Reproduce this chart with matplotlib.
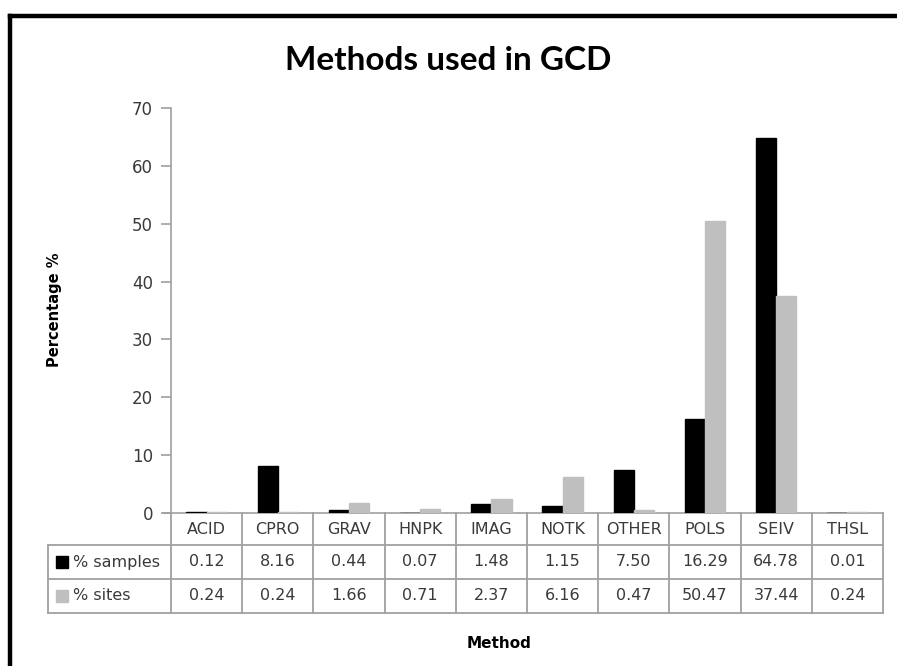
import matplotlib.pyplot as plt
import numpy as np

methods = ['ACID', 'CPRO', 'GRAV', 'HNPK', 'IMAG', 'NOTK', 'OTHER', 'POLS', 'SEIV', 'THSL']
pct_samples = [0.12, 8.16, 0.44, 0.07, 1.48, 1.15, 7.50, 16.29, 64.78, 0.01]
pct_sites = [0.24, 0.24, 1.66, 0.71, 2.37, 6.16, 0.47, 50.47, 37.44, 0.24]
series_names = ['% samples', '% sites']
y_ticks = [0, 10, 20, 30, 40, 50, 60, 70]

W, H = 897, 666
BLACK = '#000000'
GREY = '#bfbfbf'
LINE = '#a0a0a0'
TXT = '#3a3a3a'


def fx(x):
    return x / W


def fy(y):
    return 1 - y / H


fig = plt.figure(figsize=(W / 100, H / 100), dpi=100)
fig.patch.set_facecolor('white')

# plot area in pixel terms
left, right, top, base = 171, 883, 108, 513
ax = fig.add_axes([fx(left), fy(base), (right - left) / W, (base - top) / H])

x = np.arange(len(methods))
bw = 0.285
# thin edges keep the near-zero bars visible above the axis line
ax.bar(x - bw / 2, pct_samples, bw, color=BLACK, edgecolor=BLACK, linewidth=1.0, zorder=3)
ax.bar(x + bw / 2, pct_sites, bw, color=GREY, edgecolor=GREY, linewidth=1.0, zorder=3)

ax.set_xlim(-0.5, len(methods) - 0.5)
ax.set_ylim(0, 70)
ax.set_yticks(y_ticks)
ax.set_xticks([])
for s in ['top', 'right']:
    ax.spines[s].set_visible(False)
for s in ['left', 'bottom']:
    ax.spines[s].set_color(LINE)
    ax.spines[s].set_linewidth(1.2)
ax.tick_params(axis='y', direction='out', length=7, width=1.2, color=LINE,
               labelsize=12, labelcolor=TXT, pad=6)
for lab in ax.get_yticklabels():
    lab.set_fontfamily('DejaVu Sans')

# data table below the plot
lk = dict(color=LINE, linewidth=1.3, transform=fig.transFigure)
rows = [513, 545, 579, 613]
col_w = (right - left) / len(methods)
cols = [left + i * col_w for i in range(len(methods) + 1)]
tab_left = 48

fig.add_artist(plt.Line2D([fx(164), fx(left)], [fy(base), fy(base)], **lk))
for yy in rows[1:]:
    fig.add_artist(plt.Line2D([fx(tab_left), fx(right)], [fy(yy), fy(yy)], **lk))
for i, xx in enumerate(cols):
    fig.add_artist(plt.Line2D([fx(xx), fx(xx)], [fy(rows[0]), fy(rows[3])], **lk))
fig.add_artist(plt.Line2D([fx(tab_left), fx(tab_left)], [fy(rows[1]), fy(rows[3])], **lk))

tk = dict(fontsize=11.5, color=TXT, family='DejaVu Sans', ha='center', va='center')
for i, m in enumerate(methods):
    cx = fx(cols[i] + col_w / 2)
    fig.text(cx, fy((rows[0] + rows[1]) / 2), m, **tk)
    fig.text(cx, fy((rows[1] + rows[2]) / 2), f'{pct_samples[i]:.2f}', **tk)
    fig.text(cx, fy((rows[2] + rows[3]) / 2), f'{pct_sites[i]:.2f}', **tk)

for r, (name, col) in enumerate(zip(series_names, [BLACK, GREY])):
    cy = (rows[r + 1] + rows[r + 2]) / 2
    fig.add_artist(plt.Rectangle((fx(56), fy(cy + 6)), 12 / W, 12 / H,
                                 color=col, transform=fig.transFigure))
    fig.text(fx(73), fy(cy), name, fontsize=11.5, color=TXT,
             family='DejaVu Sans', ha='left', va='center')

# titles
fig.text(0.5, fy(61), 'Methods used in GCD', fontsize=24, fontweight='bold',
         family='Lato', ha='center', va='center', color='black')
fig.text(fx(55), fy(310), 'Percentage %', fontsize=10.5, fontweight='bold',
         rotation=90, ha='center', va='center', color='black')
fig.text(fx(499), fy(643), 'Method', fontsize=11, fontweight='bold',
         ha='center', va='center', color='black')

# outer chart frame
fk = dict(color='black', linewidth=3.2, transform=fig.transFigure, solid_capstyle='projecting')
fig.add_artist(plt.Line2D([fx(10), fx(W + 5)], [fy(16), fy(16)], **fk))
fig.add_artist(plt.Line2D([fx(10), fx(10)], [fy(16), fy(H + 5)], **fk))

fig.savefig('out.png', dpi=100, facecolor='white')
